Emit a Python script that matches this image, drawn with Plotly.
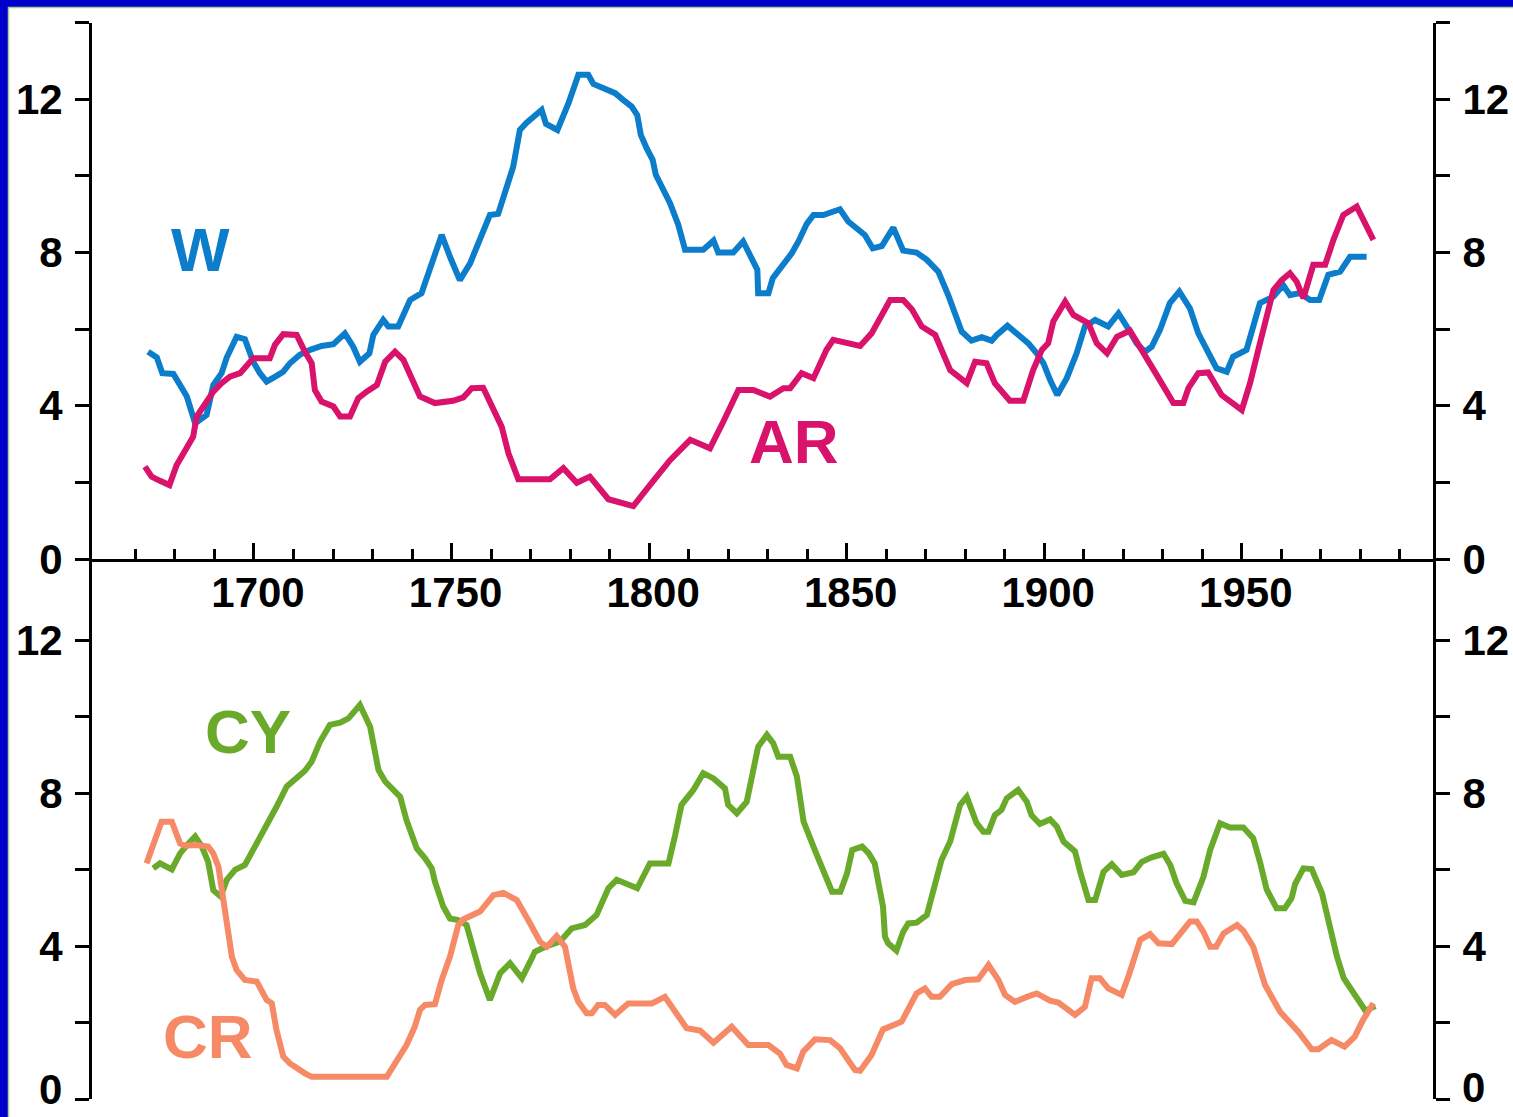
import plotly.graph_objects as go

# ---------------- data ----------------
w_years = [1673.2, 1675.4, 1676.8, 1679.6, 1681.3, 1683.0, 1685.1, 1688.0, 1689.7, 1691.8,
           1693.1, 1695.6, 1697.7, 1699.8, 1701.5, 1703.2, 1705.7, 1707.4, 1709.1, 1711.6,
           1714.2, 1717.1, 1720.1, 1723.0, 1725.1, 1726.8, 1729.2, 1730.2, 1732.7, 1734.0,
           1736.5, 1737.8, 1739.5, 1742.4, 1744.1, 1745.4, 1747.5, 1749.6, 1752.1, 1754.7,
           1756.8, 1758.5, 1759.7, 1761.8, 1763.1, 1764.8, 1765.6, 1767.3, 1769.0, 1772.8,
           1773.9, 1776.8, 1779.6, 1782.1, 1784.6, 1785.9, 1788.4, 1791.4, 1793.5, 1795.6,
           1797.0, 1797.9, 1799.4, 1800.9, 1801.7, 1803.6, 1805.3, 1807.4, 1809.1, 1813.7,
           1816.3, 1817.5, 1821.3, 1823.8, 1826.4, 1827.4, 1827.6, 1830.2, 1831.3, 1833.6,
           1836.1, 1837.8, 1839.9, 1841.6, 1844.1, 1848.3, 1850.4, 1854.6, 1856.6, 1858.9,
           1861.8, 1864.3, 1867.7, 1870.3, 1873.2, 1875.7, 1877.4, 1879.1, 1881.6, 1884.2,
           1886.7, 1888.0, 1890.7, 1893.0, 1896.0, 1898.1, 1899.8, 1901.5, 1903.3, 1905.7,
           1908.2, 1910.3, 1912.9, 1916.2, 1918.8, 1920.9, 1923.4, 1925.5, 1927.2, 1929.3,
           1931.8, 1934.2, 1936.9, 1939.0, 1941.1, 1943.6, 1946.2, 1947.8, 1951.2, 1954.6,
           1958.0, 1960.5, 1962.2, 1964.7, 1967.3, 1969.6, 1971.9, 1974.9, 1977.4, 1981.6]
w_values = [5.41, 5.26, 4.85, 4.83, 4.54, 4.24, 3.54, 3.76, 4.54, 4.85,
            5.26, 5.80, 5.74, 5.15, 4.85, 4.63, 4.78, 4.89, 5.11, 5.33,
            5.46, 5.56, 5.61, 5.89, 5.54, 5.15, 5.37, 5.85, 6.24, 6.07,
            6.07, 6.41, 6.76, 6.94, 7.46, 7.89, 8.46, 7.89, 7.28, 7.72,
            8.24, 8.76, 8.98, 9.01, 9.46, 9.98, 10.24, 11.20, 11.39, 11.72,
            11.36, 11.20, 11.90, 12.64, 12.64, 12.40, 12.29, 12.16, 11.98, 11.81,
            11.59, 11.07, 10.72, 10.42, 10.03, 9.68, 9.29, 8.72, 8.07, 8.07,
            8.31, 8.00, 8.00, 8.29, 7.76, 7.55, 6.94, 6.94, 7.33, 7.63,
            7.98, 8.29, 8.75, 8.98, 8.98, 9.13, 8.81, 8.46, 8.11, 8.17,
            8.65, 8.05, 8.00, 7.81, 7.50, 6.89, 6.41, 5.94, 5.70, 5.79,
            5.70, 5.85, 6.09, 5.89, 5.63, 5.37, 5.11, 4.67, 4.28, 4.72,
            5.37, 6.07, 6.24, 6.07, 6.41, 6.07, 5.63, 5.41, 5.54, 5.98,
            6.68, 6.98, 6.54, 5.89, 5.46, 4.98, 4.89, 5.28, 5.46, 6.68,
            6.85, 7.15, 6.89, 6.94, 6.76, 6.76, 7.42, 7.50, 7.89, 7.89]

ar_years = [1672.4, 1674.1, 1676.2, 1678.6, 1680.4, 1682.5, 1684.6, 1685.5, 1687.6, 1689.7,
            1691.8, 1693.9, 1696.5, 1699.8, 1704.0, 1705.3, 1707.4, 1710.8, 1712.9, 1714.6,
            1715.4, 1717.1, 1720.1, 1721.8, 1724.3, 1726.4, 1728.5, 1731.1, 1733.2, 1735.7,
            1737.8, 1739.9, 1742.0, 1745.8, 1750.4, 1753.0, 1755.1, 1758.0, 1760.6, 1762.7,
            1764.4, 1766.9, 1774.9, 1778.3, 1781.7, 1785.0, 1789.7, 1796.0, 1800.2, 1805.3,
            1810.4, 1815.4, 1818.8, 1822.6, 1826.4, 1830.6, 1834.0, 1835.7, 1838.6, 1841.6,
            1844.9, 1846.6, 1853.4, 1856.3, 1861.0, 1864.3, 1866.5, 1869.0, 1872.4, 1876.2,
            1880.4, 1882.5, 1885.4, 1887.5, 1891.3, 1894.7, 1897.2, 1899.4, 1901.0, 1902.3,
            1905.3, 1907.4, 1911.2, 1913.3, 1915.9, 1918.4, 1921.7, 1925.1, 1928.5, 1932.7,
            1935.2, 1936.5, 1939.0, 1941.5, 1944.9, 1950.0, 1952.1, 1954.6, 1958.0, 1960.1,
            1962.2, 1963.9, 1965.6, 1968.1, 1971.1, 1973.2, 1975.7, 1979.1, 1981.2, 1983.3]
ar_values = [2.41, 2.15, 2.04, 1.93, 2.45, 2.80, 3.19, 3.72, 4.07, 4.37,
             4.59, 4.76, 4.85, 5.24, 5.24, 5.59, 5.87, 5.85, 5.41, 5.11,
             4.41, 4.11, 3.98, 3.72, 3.72, 4.20, 4.37, 4.54, 5.15, 5.41,
             5.20, 4.76, 4.24, 4.07, 4.13, 4.22, 4.46, 4.47, 3.89, 3.45,
             2.76, 2.08, 2.08, 2.37, 1.99, 2.15, 1.56, 1.38, 1.93, 2.58,
             3.11, 2.89, 3.59, 4.41, 4.41, 4.24, 4.46, 4.46, 4.85, 4.72,
             5.46, 5.72, 5.56, 5.89, 6.76, 6.76, 6.52, 6.07, 5.85, 4.93,
             4.59, 5.15, 5.11, 4.59, 4.13, 4.13, 4.93, 5.46, 5.63, 6.20,
             6.72, 6.37, 6.15, 5.63, 5.37, 5.80, 5.96, 5.41, 4.80, 4.07,
             4.07, 4.46, 4.85, 4.87, 4.28, 3.89, 4.59, 5.63, 7.02, 7.28,
             7.46, 7.24, 6.81, 7.68, 7.68, 8.33, 8.98, 9.20, 8.76, 8.33]

cy_years = [1674.5, 1676.2, 1679.2, 1681.3, 1683.4, 1685.1, 1686.8, 1688.4, 1689.7, 1691.6,
            1693.1, 1695.2, 1697.7, 1700.3, 1703.2, 1705.7, 1708.3, 1710.8, 1712.9, 1714.6,
            1716.7, 1719.2, 1721.8, 1723.9, 1726.8, 1729.4, 1731.5, 1733.2, 1735.7, 1737.0,
            1738.6, 1741.2, 1743.3, 1745.0, 1745.8, 1746.7, 1747.9, 1749.6, 1751.7, 1753.8,
            1755.1, 1757.2, 1759.7, 1762.3, 1764.8, 1767.8, 1769.9, 1771.1, 1773.7, 1777.4,
            1780.4, 1783.8, 1786.7, 1789.7, 1791.8, 1794.7, 1797.0, 1800.2, 1804.9, 1806.6,
            1808.2, 1811.2, 1813.7, 1816.3, 1819.2, 1820.0, 1822.2, 1824.7, 1827.6, 1829.8,
            1831.4, 1832.7, 1835.7, 1837.4, 1839.1, 1842.1, 1845.0, 1846.3, 1848.4, 1850.1,
            1851.4, 1853.9, 1855.6, 1857.1, 1859.2, 1859.7, 1860.5, 1862.6, 1864.3, 1865.6,
            1867.7, 1870.3, 1874.0, 1876.2, 1878.7, 1880.4, 1882.9, 1884.6, 1885.9, 1887.5,
            1889.2, 1890.5, 1893.4, 1895.6, 1896.8, 1898.9, 1901.5, 1903.2, 1904.9, 1907.8,
            1909.1, 1911.2, 1912.9, 1915.0, 1917.1, 1919.6, 1922.6, 1924.7, 1927.2, 1930.2,
            1931.9, 1933.5, 1935.7, 1937.8, 1940.3, 1942.0, 1944.5, 1947.0, 1950.4, 1952.9,
            1954.6, 1956.3, 1958.8, 1960.9, 1962.6, 1963.5, 1965.6, 1967.7, 1970.3, 1972.4,
            1974.1, 1975.8, 1977.5, 1979.6, 1981.3, 1983.8]
cy_values = [6.03, 6.16, 6.00, 6.42, 6.68, 6.86, 6.60, 6.20, 5.46, 5.29,
             5.73, 5.99, 6.12, 6.60, 7.12, 7.64, 8.17, 8.38, 8.58, 8.82,
             9.34, 9.78, 9.84, 9.95, 10.30, 9.73, 8.60, 8.30, 8.03, 7.90,
             7.29, 6.55, 6.29, 6.03, 5.68, 5.38, 5.03, 4.72, 4.68, 4.55,
             4.07, 3.29, 2.59, 3.29, 3.55, 3.16, 3.59, 3.85, 3.98, 4.11,
             4.46, 4.55, 4.81, 5.51, 5.73, 5.59, 5.51, 6.16, 6.16, 6.90,
             7.69, 8.08, 8.52, 8.38, 8.12, 7.69, 7.47, 7.77, 9.21, 9.52,
             9.30, 8.95, 8.95, 8.43, 7.25, 6.47, 5.68, 5.42, 5.42, 5.90,
             6.51, 6.60, 6.42, 6.16, 5.03, 4.24, 4.07, 3.88, 4.37, 4.59,
             4.61, 4.81, 6.25, 6.73, 7.69, 7.90, 7.21, 6.99, 6.99, 7.42,
             7.56, 7.86, 8.08, 7.77, 7.42, 7.19, 7.31, 7.12, 6.73, 6.47,
             5.94, 5.20, 5.20, 5.94, 6.14, 5.86, 5.93, 6.20, 6.32, 6.41,
             6.12, 5.64, 5.18, 5.14, 5.81, 6.51, 7.21, 7.10, 7.10, 6.82,
             6.20, 5.48, 4.99, 4.99, 5.25, 5.62, 6.03, 6.01, 5.38, 4.37,
             3.72, 3.16, 2.89, 2.54, 2.31, 2.43]

cr_years = [1672.8, 1674.5, 1676.6, 1679.2, 1681.3, 1682.5, 1685.5, 1688.4, 1689.7, 1691.0,
            1691.8, 1692.7, 1693.5, 1694.4, 1695.6, 1697.7, 1700.7, 1703.2, 1704.5, 1705.7,
            1707.4, 1709.1, 1712.9, 1714.6, 1733.6, 1736.1, 1738.6, 1740.7, 1742.0, 1743.3,
            1745.8, 1747.5, 1749.6, 1751.7, 1753.0, 1757.2, 1760.6, 1763.1, 1766.5, 1769.4,
            1772.4, 1774.1, 1776.6, 1778.7, 1780.8, 1782.1, 1784.2, 1785.5, 1787.1, 1788.8,
            1791.4, 1794.7, 1800.7, 1804.0, 1806.6, 1809.5, 1812.9, 1816.3, 1820.9, 1825.1,
            1830.2, 1833.1, 1834.8, 1837.4, 1839.0, 1842.0, 1845.8, 1848.3, 1852.1, 1853.4,
            1856.3, 1859.2, 1863.9, 1867.7, 1869.8, 1871.5, 1873.6, 1876.6, 1880.0, 1883.3,
            1885.9, 1888.4, 1890.1, 1892.6, 1895.6, 1898.1, 1901.5, 1903.6, 1907.8, 1910.3,
            1912.0, 1914.1, 1916.2, 1919.6, 1921.3, 1924.3, 1926.8, 1928.9, 1932.3, 1934.4,
            1936.9, 1938.6, 1940.3, 1942.0, 1943.5, 1945.4, 1948.8, 1950.4, 1952.9, 1955.9,
            1959.7, 1964.3, 1967.7, 1969.4, 1972.7, 1976.0, 1978.6, 1980.7, 1983.3]
cr_values = [6.16, 6.60, 7.25, 7.25, 6.68, 6.62, 6.64, 6.60, 6.42, 6.07,
             5.55, 4.85, 4.24, 3.72, 3.37, 3.11, 3.07, 2.59, 2.50, 1.80,
             1.11, 0.93, 0.67, 0.58, 0.58, 0.98, 1.41, 1.89, 2.33, 2.46,
             2.48, 3.11, 3.72, 4.55, 4.70, 4.90, 5.33, 5.39, 5.20, 4.68,
             4.11, 3.98, 4.26, 3.98, 2.89, 2.54, 2.24, 2.24, 2.46, 2.46,
             2.20, 2.50, 2.50, 2.67, 2.28, 1.85, 1.79, 1.47, 1.89, 1.41,
             1.41, 1.19, 0.89, 0.80, 1.24, 1.56, 1.54, 1.33, 0.76, 0.74,
             1.15, 1.82, 2.02, 2.76, 2.89, 2.67, 2.67, 3.00, 3.11, 3.13,
             3.50, 3.11, 2.72, 2.54, 2.67, 2.76, 2.57, 2.52, 2.20, 2.41,
             3.16, 3.16, 2.89, 2.72, 3.20, 4.16, 4.31, 4.07, 4.05, 4.33,
             4.64, 4.64, 4.37, 3.98, 3.98, 4.33, 4.55, 4.40, 3.98, 2.98,
             2.28, 1.76, 1.30, 1.30, 1.54, 1.37, 1.63, 2.07, 2.50]

x_major_ticks = [1700, 1750, 1800, 1850, 1900, 1950]
x_minor_ticks = [1670, 1680, 1690, 1710, 1720, 1730, 1740, 1760, 1770, 1780, 1790,
                 1810, 1820, 1830, 1840, 1860, 1870, 1880, 1890, 1910, 1920, 1930,
                 1940, 1960, 1970, 1980, 1990]
y_ticks_top = [0, 2, 4, 6, 8, 10, 12, 14]
y_text_top = ["0", "", "4", "", "8", "", "12", ""]
y_ticks_bot = [0, 2, 4, 6, 8, 10, 12]
# the bottom "0" is written as an annotation so that it stays inside the page
y_text_bot = ["", "", "4", "", "8", "", "12"]
y_zero_label = "0"

# ---------------- styling ----------------
W_COLOR = "#0B7DCB"
AR_COLOR = "#D9126B"
CY_COLOR = "#6AAA2A"
CR_COLOR = "#F68A67"
BORDER = "#0000CC"

WIDTH, HEIGHT = 1513, 1117
FONT = "Liberation Sans, Arial, sans-serif"
LW = 6


def px_x(x):
    return x / WIDTH


def px_y(y):
    return (HEIGHT - y) / HEIGHT


X_DOMAIN = [px_x(92), px_x(1433)]
X_RANGE = [1659.0, 1998.4]
TOP_DOMAIN = [px_y(559), px_y(22.7)]
BOT_DOMAIN = [px_y(1099), px_y(559)]
BOT_TOP = (1099 - 559) / 38.25

fig = go.Figure()
fig.add_trace(go.Scatter(x=w_years, y=w_values, mode="lines", xaxis="x", yaxis="y",
                         line=dict(color=W_COLOR, width=LW), showlegend=False))
fig.add_trace(go.Scatter(x=ar_years, y=ar_values, mode="lines", xaxis="x", yaxis="y",
                         line=dict(color=AR_COLOR, width=LW), showlegend=False))
fig.add_trace(go.Scatter(x=cy_years, y=cy_values, mode="lines", xaxis="x2", yaxis="y3",
                         line=dict(color=CY_COLOR, width=LW), showlegend=False))
fig.add_trace(go.Scatter(x=cr_years, y=cr_values, mode="lines", xaxis="x2", yaxis="y3",
                         line=dict(color=CR_COLOR, width=LW), showlegend=False))
# dummy traces so the right axes are drawn
fig.add_trace(go.Scatter(x=[None], y=[None], xaxis="x", yaxis="y2", showlegend=False))
fig.add_trace(go.Scatter(x=[None], y=[None], xaxis="x2", yaxis="y4", showlegend=False))

tick_font = dict(family=FONT, size=42, color="black", weight="bold")
yax_common = dict(showline=True, linecolor="black", linewidth=3, ticks="outside",
                  ticklen=14, tickwidth=3, tickcolor="black", showgrid=False,
                  zeroline=False, tickfont=tick_font, tickmode="array", fixedrange=True,
                  automargin=False, ticklabeloverflow="allow")

fig.update_layout(
    width=WIDTH, height=HEIGHT,
    margin=dict(l=0, r=0, t=0, b=0, pad=0, autoexpand=False),
    paper_bgcolor="white", plot_bgcolor="rgba(0,0,0,0)",
    xaxis=dict(domain=X_DOMAIN, range=X_RANGE, anchor="y", showline=True,
               linecolor="black", linewidth=3, ticks="inside", ticklen=16, tickwidth=3,
               tickcolor="black", tickmode="array", tickvals=x_major_ticks,
               ticktext=[str(v) for v in x_major_ticks], tickfont=tick_font,
               showgrid=False, zeroline=False, ticklabelstandoff=-5, ticklabelshift=4,
               automargin=False, ticklabeloverflow="allow", fixedrange=True,
               minor=dict(tickmode="array", tickvals=x_minor_ticks, ticks="inside",
                          ticklen=10, tickwidth=3, tickcolor="black", showgrid=False)),
    xaxis2=dict(domain=X_DOMAIN, range=X_RANGE, anchor="y3", showline=False,
                showticklabels=False, ticks="", showgrid=False, zeroline=False,
                automargin=False, fixedrange=True),
    yaxis=dict(domain=TOP_DOMAIN, range=[0, 14], anchor="x", side="left",
               tickvals=y_ticks_top, ticktext=y_text_top, ticklabelstandoff=4, **yax_common),
    yaxis2=dict(domain=TOP_DOMAIN, range=[0, 14], anchor="x", overlaying="y", side="right",
                tickvals=y_ticks_top, ticktext=y_text_top, ticklabelstandoff=4, **yax_common),
    yaxis3=dict(domain=BOT_DOMAIN, range=[0, BOT_TOP], anchor="x2", side="left",
                tickvals=y_ticks_bot, ticktext=y_text_bot, ticklabelstandoff=4, **yax_common),
    yaxis4=dict(domain=BOT_DOMAIN, range=[0, BOT_TOP], anchor="x2", overlaying="y3",
                side="right", tickvals=y_ticks_bot, ticktext=y_text_bot,
                ticklabelstandoff=4, **yax_common),
)

label_font = dict(family=FONT, size=62, weight="bold")
for text, cx, cy, col in [("W", 200, 249, W_COLOR), ("AR", 794, 442, AR_COLOR),
                          ("CY", 248, 731, CY_COLOR), ("CR", 208, 1036, CR_COLOR)]:
    fig.add_annotation(text=text, x=px_x(cx), y=px_y(cy), xref="paper", yref="paper",
                       xanchor="center", yanchor="middle", showarrow=False,
                       font=dict(color=col, **label_font))

# bottom-panel zero labels (slightly above the tick, as in the reference)
fig.add_annotation(text=y_zero_label, x=px_x(63), y=px_y(1089), xref="paper", yref="paper",
                   xanchor="right", yanchor="middle", showarrow=False, font=tick_font,
                   borderpad=0)
fig.add_annotation(text=y_zero_label, x=px_x(1461), y=px_y(1087), xref="paper", yref="paper",
                   xanchor="left", yanchor="middle", showarrow=False, font=tick_font,
                   borderpad=0)

# frame
fig.add_shape(type="rect", xref="paper", yref="paper", x0=0, x1=px_x(8), y0=0, y1=1,
              fillcolor=BORDER, line_width=0, layer="above")
fig.add_shape(type="rect", xref="paper", yref="paper", x0=0, x1=1, y0=px_y(7), y1=1,
              fillcolor=BORDER, line_width=0, layer="above")
fig.add_shape(type="line", xref="paper", yref="paper", x0=px_x(8.5), x1=px_x(8.5),
              y0=0, y1=px_y(7), line=dict(color="#A8D08A", width=1.5))
fig.add_shape(type="line", xref="paper", yref="paper", x0=px_x(8), x1=1,
              y0=px_y(7.5), y1=px_y(7.5), line=dict(color="#A8D08A", width=1.5))

fig.write_html("out.html",
               config={"displayModeBar": False, "staticPlot": True},
               post_script="document.body.style.margin='0';"
                           "document.body.style.overflow='hidden';")
